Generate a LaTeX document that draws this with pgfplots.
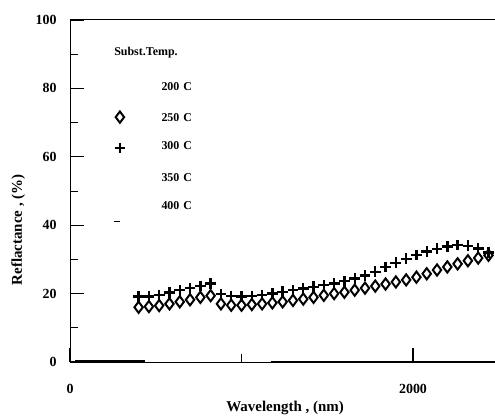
\documentclass[border=0pt]{standalone}
\usepackage{fontspec}
\setmainfont{Liberation Serif}
\usepackage{pgfplots}
\pgfplotsset{compat=1.18}
\begin{document}
\begin{tikzpicture}
\path[use as bounding box] (-70bp,-56bp) rectangle (425bp,342bp+20bp);
\begin{axis}[
  scale only axis, width=425bp, height=342bp,
  xmin=0, xmax=2478, ymin=0, ymax=100,
  axis line style={draw=none},
  xtick pos=bottom, ytick pos=left,
  xtick={0,2000}, minor xtick={1000},
  ytick={0,20,40,60,80,100}, minor y tick num=1,
  tick align=inside,
  major tick length=14bp, minor tick length=8bp,
  major tick style={black, line width=1.2pt},
  minor tick style={black, line width=1pt},
  /pgf/number format/assume math mode=true,
  /pgf/number format/1000 sep={},
  ticklabel style={font=\fontsize{14}{16}\selectfont\bfseries},
  xticklabel style={yshift=-19bp},
  yticklabel style={xshift=-10bp},
  xlabel={Wavelength , (nm)},
  ylabel={Reflactance , (\%)},
  xlabel style={font=\fontsize{15}{17}\selectfont\bfseries, at={(axis description cs:0.506,-0.135)}, anchor=center},
  ylabel style={font=\fontsize{15}{17}\selectfont\bfseries, at={(axis description cs:-0.122,0.386)}, anchor=center, rotate=0},
  clip=false,
]
% 250 C
\addplot[only marks, mark=diamond, mark size=5.6bp, mark options={line width=2pt, black}] coordinates {
(400,16.0)(460,16.2)(520,16.5)(580,17.0)(640,17.6)(700,18.2)(760,18.9)(820,19.4)
(880,17.0)(940,16.6)(1000,16.6)(1060,16.8)(1120,17.0)(1180,17.3)(1240,17.6)(1300,18.0)
(1360,18.4)(1420,18.9)(1480,19.5)(1540,20.0)(1600,20.4)(1660,21.0)(1720,21.6)(1780,22.2)
(1840,22.8)(1900,23.4)(1960,24.0)(2020,24.8)(2080,25.8)(2140,26.9)(2200,27.8)(2260,28.7)
(2320,29.6)(2380,30.4)(2440,31.2)
};
% 300 C
\addplot[only marks, mark=+, mark size=5.4bp, mark options={line width=2.4pt, black}] coordinates {
(400,19.1)(460,19.2)(520,19.6)(580,20.3)(640,21.0)(700,21.6)(760,22.2)(820,22.9)
(880,19.8)(940,19.3)(1000,19.2)(1060,19.3)(1120,19.6)(1180,20.0)(1240,20.5)(1300,21.0)
(1360,21.5)(1420,22.0)(1480,22.5)(1540,23.0)(1600,23.6)(1660,24.4)(1720,25.3)(1780,26.4)
(1840,27.8)(1900,29.0)(1960,30.2)(2020,31.3)(2080,32.3)(2140,33.1)(2200,33.8)(2260,34.2)
(2320,34.0)(2380,33.2)(2440,32.0)
};
% 400 C (near zero)
\addplot[black, line width=1.8pt] coordinates {(30,0.4) (440,0.4)};
% legend markers
\addplot[only marks, mark=diamond, mark size=5.6bp, mark options={line width=2pt, black}] coordinates {(291,71.6)};
\addplot[only marks, mark=+, mark size=5.4bp, mark options={line width=2.4pt, black}] coordinates {(291,62.6)};
\addplot[only marks, mark=-, mark size=3bp, mark options={line width=1pt, black}] coordinates {(274,41.2)};
% legend texts
\node[font=\fontsize{12}{14}\selectfont\bfseries] at (axis cs:443,90.4) {Subst.Temp.};
\node[anchor=west, font=\fontsize{12}{14}\selectfont\bfseries] at (axis cs:513,80.4) {200\,\,C};
\node[anchor=west, font=\fontsize{12}{14}\selectfont\bfseries] at (axis cs:513,71.6) {250\,\,C};
\node[anchor=west, font=\fontsize{12}{14}\selectfont\bfseries] at (axis cs:513,63.2) {300\,\,C};
\node[anchor=west, font=\fontsize{12}{14}\selectfont\bfseries] at (axis cs:513,53.8) {350\,\,C};
\node[anchor=west, font=\fontsize{12}{14}\selectfont\bfseries] at (axis cs:513,45.6) {400\,\,C};
% frame: left, bottom, top
\draw[line width=1pt] (axis cs:2478,100) -- (axis cs:0,100) -- (axis cs:0,0) -- (axis cs:2478,0);
\draw[line width=1.8pt] (axis cs:1170,0) -- (axis cs:2478,0);
% y major ticks
\draw[line width=1.2pt] (axis cs:0,20) -- (axis cs:82,20);
\draw[line width=1.2pt] (axis cs:0,40) -- (axis cs:82,40);
\draw[line width=1.2pt] (axis cs:0,60) -- (axis cs:82,60);
\draw[line width=1.2pt] (axis cs:0,80) -- (axis cs:82,80);
\end{axis}
\end{tikzpicture}
\end{document}
